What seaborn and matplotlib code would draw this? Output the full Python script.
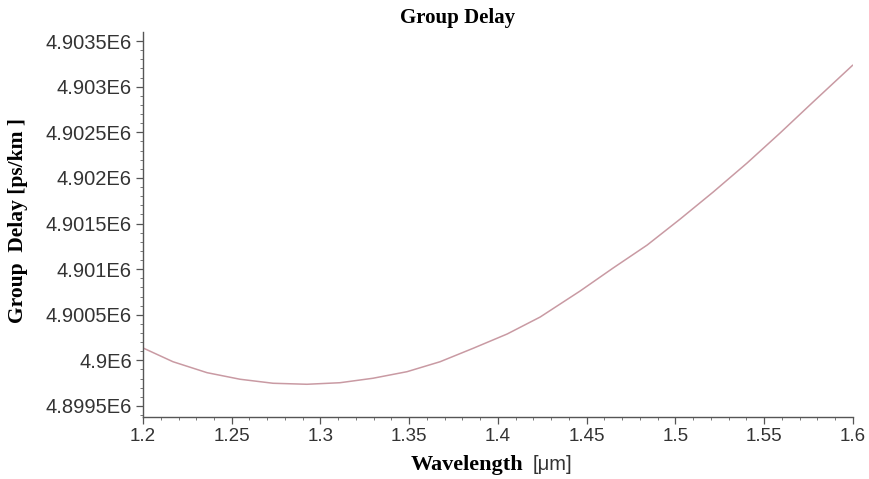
import matplotlib
matplotlib.use("Agg")
import matplotlib.pyplot as plt
import seaborn as sns
import pandas as pd
from matplotlib.ticker import AutoMinorLocator

wavelength = [1.2000, 1.2169, 1.2361, 1.2547, 1.2733, 1.2924, 1.3110, 1.3296,
              1.3488, 1.3674, 1.3860, 1.4052, 1.4238, 1.4463, 1.4649, 1.4841,
              1.5027, 1.5213, 1.5404, 1.5590, 1.5776, 1.6000]
group_delay = [4900136, 4899985, 4899865, 4899793, 4899749, 4899738, 4899755, 4899804,
               4899876, 4899985, 4900132, 4900289, 4900475, 4900760, 4901012, 4901264,
               4901549, 4901845, 4902163, 4902492, 4902832, 4903237]

x_ticks = [1.2, 1.25, 1.3, 1.35, 1.4, 1.45, 1.5, 1.55, 1.6]
x_labels = ["1.2", "1.25", "1.3", "1.35", "1.4", "1.45", "1.5", "1.55", "1.6"]
y_ticks = [4899500, 4900000, 4900500, 4901000, 4901500, 4902000, 4902500, 4903000, 4903500]
y_labels = ["4.8995E6", "4.9E6", "4.9005E6", "4.901E6", "4.9015E6", "4.902E6",
            "4.9025E6", "4.903E6", "4.9035E6"]

df = pd.DataFrame({"Wavelength": wavelength, "GroupDelay": group_delay})

sns.set_theme(style="white")
plt.rcParams['font.family'] = ['Liberation Sans', 'DejaVu Sans']

fig = plt.figure(figsize=(8.7, 4.79), dpi=100)
ax = fig.add_axes([0.1644, 0.1294, 0.8158, 0.8036])

sns.lineplot(data=df, x="Wavelength", y="GroupDelay", ax=ax,
             color="#c99aa3", linewidth=1.1)

ax.set_xlim(1.2, 1.6)
ax.set_ylim(4899379, 4903599)
ax.set_xticks(x_ticks)
ax.set_xticklabels(x_labels)
ax.set_yticks(y_ticks)
ax.set_yticklabels(y_labels)
ax.xaxis.set_minor_locator(AutoMinorLocator(5))
ax.yaxis.set_minor_locator(AutoMinorLocator(5))

for s in ["top", "right"]:
    ax.spines[s].set_visible(False)
for s in ["left", "bottom"]:
    ax.spines[s].set_color("#555555")
    ax.spines[s].set_linewidth(1.0)

ax.tick_params(axis="both", which="major", direction="out", length=5, width=0.9,
               color="#555555", labelcolor="#333333", pad=3,
               left=True, bottom=True)
ax.tick_params(axis="y", which="major", labelsize=14.5)
ax.tick_params(axis="x", which="major", labelsize=13.5)
ax.tick_params(axis="both", which="minor", direction="out", length=2.5, width=0.7,
               color="#777777", left=True, bottom=True)

ax.set_xlabel("")
ax.set_ylabel("")

fig.text(0.526, 0.963, "Group Delay", ha="center", va="center",
         family=["Liberation Serif"], fontweight="bold", fontsize=15, color="black")
fig.text(0.021, 0.54, "Group  Delay [ps/km ]", ha="center", va="center", rotation=90,
         family=["Liberation Serif"], fontweight="bold", fontsize=15.5, color="black")
fig.text(0.601, 0.030, "Wavelength", ha="right", va="center",
         family=["Liberation Serif"], fontweight="bold", fontsize=16, color="black")
fig.text(0.612, 0.030, "[\u03bcm]", ha="left", va="center",
         family=["Liberation Sans", "DejaVu Sans"], fontsize=14.5, color="#333333")

fig.savefig("out.png", dpi=100, facecolor="white")
